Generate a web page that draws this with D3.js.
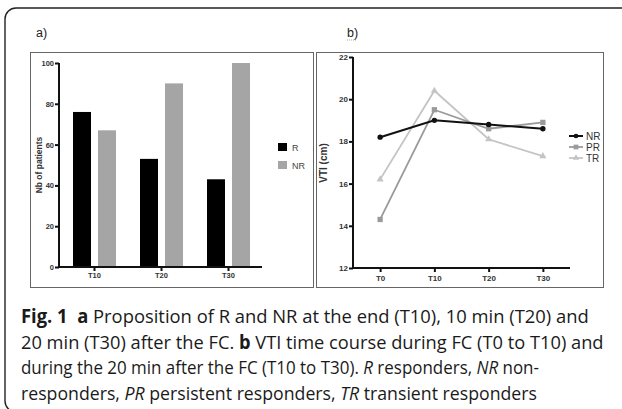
<!DOCTYPE html>
<html>
<head>
<meta charset="utf-8">
<script src="https://cdn.jsdelivr.net/npm/d3@7"></script>
<style>
  body { margin: 0; background: #fff; }
  svg { display: block; }
  .tick text { font-family: Arial, "Liberation Sans", sans-serif; font-weight: bold; fill: #333; }
</style>
</head>
<body>
<div id="chart"></div>
<script>
// panel a: proportion of responders / non-responders
var timesA = ["T10", "T20", "T30"];
var groupsA = ["R", "NR"];
var valuesR = [76, 53, 43];
var valuesNR = [67, 90, 100];
var ticksA = [0, 20, 40, 60, 80, 100];

// panel b: VTI time course
var timesB = ["T0", "T10", "T20", "T30"];
var vtiNR = [18.2, 19.0, 18.8, 18.6];
var vtiPR = [14.3, 19.5, 18.6, 18.9];
var vtiTR = [16.2, 20.4, 18.1, 17.3];
var ticksB = [12, 14, 16, 18, 20, 22];

var captionLines = [
  [["Fig. 1", "b"], ["  ", ""], ["a", "b"], [" Proposition of R and NR at the end (T10), 10 min (T20) and", ""]],
  [["20 min (T30) after the FC. ", ""], ["b", "b"], [" VTI time course during FC (T0 to T10) and", ""]],
  [["during the 20 min after the FC (T10 to T30). ", ""], ["R", "i"], [" responders, ", ""], ["NR", "i"], [" non-", ""]],
  [["responders, ", ""], ["PR", "i"], [" persistent responders, ", ""], ["TR", "i"], [" transient responders", ""]]
];
var captionWidths = [568, 583, 518, 516];

var W = 622, H = 409;
var svg = d3.select("#chart").append("svg")
  .attr("width", W)
  .attr("height", H);

// card outline
svg.append("rect")
  .attr("x", 5).attr("y", 8)
  .attr("width", 700).attr("height", 404)
  .attr("rx", 11)
  .attr("fill", "none")
  .attr("stroke", "#222")
  .attr("stroke-width", 1.4);

// panel frames
svg.append("rect").attr("x", 30.5).attr("y", 52.5).attr("width", 283).attr("height", 235)
  .attr("fill", "none").attr("stroke", "#666").attr("stroke-width", 1);
svg.append("rect").attr("x", 316.5).attr("y", 52.5).attr("width", 287).attr("height", 235)
  .attr("fill", "none").attr("stroke", "#666").attr("stroke-width", 1);

svg.append("text").attr("x", 36).attr("y", 37)
  .style("font-family", "Arial, sans-serif").style("font-size", "12.5px").style("fill", "#222")
  .text("a)");
svg.append("text").attr("x", 347).attr("y", 37)
  .style("font-family", "Arial, sans-serif").style("font-size", "12.5px").style("fill", "#222")
  .text("b)");
svg.append("line").attr("x1", 347).attr("x2", 356).attr("y1", 40).attr("y2", 40)
  .attr("stroke", "#999").attr("stroke-width", 0.8).attr("stroke-dasharray", "1,1");

// ---- panel a ----
var x0 = d3.scaleBand().domain(timesA).range([61, 262]);
var x1 = d3.scaleBand().domain(groupsA).range([0, x0.bandwidth()])
  .paddingInner(0.28).paddingOuter(0.48);
var yA = d3.scaleLinear().domain([0, 100]).range([267, 63]);
var colorA = {R: "#000", NR: "#a5a5a5"};

var gA = svg.append("g");
timesA.forEach(function(t, i) {
  var vals = {R: valuesR[i], NR: valuesNR[i]};
  groupsA.forEach(function(g) {
    gA.append("rect")
      .attr("x", x0(t) + x1(g))
      .attr("y", yA(vals[g]))
      .attr("width", x1.bandwidth())
      .attr("height", yA(0) - yA(vals[g]))
      .attr("fill", colorA[g]);
  });
});

var axA = gA.append("g").attr("transform", "translate(59,0)")
  .call(d3.axisLeft(yA).tickValues(ticksA).tickSize(4).tickPadding(1));
var axAx = gA.append("g").attr("transform", "translate(0,267)")
  .call(d3.axisBottom(x0).tickSize(4).tickPadding(2));
axAx.select(".domain").attr("d", "M59,0H262");
[axA, axAx].forEach(function(a) {
  a.select(".domain").attr("stroke", "#111").attr("stroke-width", 2);
  a.selectAll(".tick line").attr("stroke", "#111").attr("stroke-width", 2);
  a.selectAll(".tick text").style("font-size", "7.5px");
});
axA.select(".domain").attr("d", "M0,63V268");

gA.append("text")
  .attr("transform", "translate(42,165) rotate(-90)")
  .attr("text-anchor", "middle")
  .style("font-family", "Arial, sans-serif").style("font-size", "8.5px").style("font-weight", "bold").style("fill", "#333")
  .text("Nb of patients");

groupsA.forEach(function(g, i) {
  gA.append("rect").attr("x", 278).attr("y", 143 + i * 18).attr("width", 9).attr("height", 8)
    .attr("fill", colorA[g]);
  gA.append("text").attr("x", 292).attr("y", 150.5 + i * 18)
    .style("font-family", "Arial, sans-serif").style("font-size", "9px").style("fill", "#444")
    .text(g);
});

// ---- panel b ----
var xB = d3.scalePoint().domain(timesB).range([353, 570]).padding(0.5);
var yB = d3.scaleLinear().domain([12, 22]).range([268, 57]);
var gB = svg.append("g");

var series = [
  {name: "NR", values: vtiNR, color: "#111", width: 2, shape: d3.symbolCircle, size: 22},
  {name: "PR", values: vtiPR, color: "#9a9a9a", width: 1.8, shape: d3.symbolSquare, size: 28},
  {name: "TR", values: vtiTR, color: "#c4c4c4", width: 1.8, shape: d3.symbolTriangle, size: 22}
];
var line = d3.line()
  .x(function(d, i) { return xB(timesB[i]); })
  .y(function(d) { return yB(d); });

series.slice().reverse().forEach(function(s) {
  gB.append("path").attr("d", line(s.values))
    .attr("fill", "none").attr("stroke", s.color).attr("stroke-width", s.width);
  gB.selectAll(null).data(s.values).enter().append("path")
    .attr("transform", function(d, i) { return "translate(" + xB(timesB[i]) + "," + yB(d) + ")"; })
    .attr("d", d3.symbol().type(s.shape).size(s.size))
    .attr("fill", s.color);
});

var axB = gB.append("g").attr("transform", "translate(353,0)")
  .call(d3.axisLeft(yB).tickValues(ticksB).tickSize(4).tickPadding(1));
var axBx = gB.append("g").attr("transform", "translate(0,268)")
  .call(d3.axisBottom(xB).tickSize(4).tickPadding(3));
[axB, axBx].forEach(function(a) {
  a.select(".domain").attr("stroke", "#111").attr("stroke-width", 2);
  a.selectAll(".tick line").attr("stroke", "#111").attr("stroke-width", 2);
  a.selectAll(".tick text").style("font-size", "8px");
});
axB.select(".domain").attr("d", "M0,57V269");
axBx.select(".domain").attr("d", "M353,0H570");

gB.append("text")
  .attr("transform", "translate(327,163) rotate(-90)")
  .attr("text-anchor", "middle")
  .style("font-family", "Arial, sans-serif").style("font-size", "10px").style("font-weight", "bold").style("fill", "#333")
  .text("VTI (cm)");

series.forEach(function(s, i) {
  var ly = 136 + i * 11;
  gB.append("line").attr("x1", 569).attr("x2", 583).attr("y1", ly).attr("y2", ly)
    .attr("stroke", s.color).attr("stroke-width", s.width);
  gB.append("path").attr("transform", "translate(576," + ly + ")")
    .attr("d", d3.symbol().type(s.shape).size(s.size * 0.8)).attr("fill", s.color);
  gB.append("text").attr("x", 586).attr("y", ly + 3.5)
    .style("font-family", "Arial, sans-serif").style("font-size", "10px").style("fill", "#333")
    .text(s.name);
});

// ---- caption ----
captionLines.forEach(function(parts, i) {
  var t = svg.append("text")
    .attr("x", 0).attr("y", 0)
    .attr("xml:space", "preserve")
    .style("white-space", "pre")
    .style("font-family", "'Open Sans', 'Noto Sans', sans-serif")
    .style("font-size", "19px")
    .style("fill", "#1a1a1a");
  parts.forEach(function(p) {
    t.append("tspan")
      .style("font-weight", p[1] === "b" ? "bold" : "normal")
      .style("font-style", p[1] === "i" ? "italic" : "normal")
      .text(p[0]);
  });
  var w = t.node().getBBox().width;
  t.attr("transform", "translate(21," + (323 + i * 25.7) + ") scale(" + (captionWidths[i] / w) + ",1)");
});
</script>
</body>
</html>
